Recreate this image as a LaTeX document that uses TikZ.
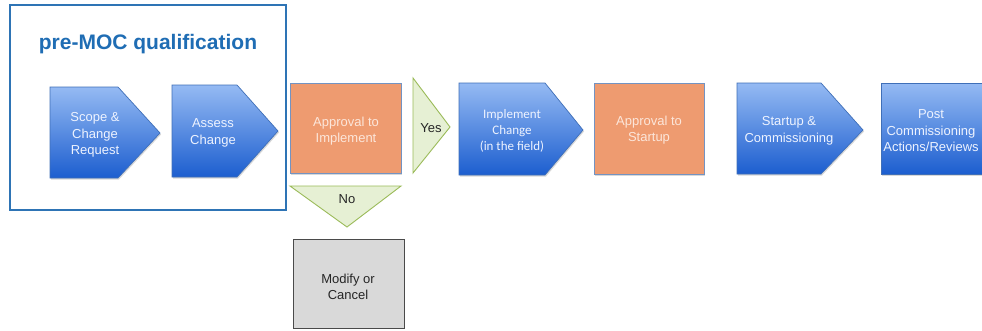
\documentclass[tikz,border=0pt]{standalone}
\usepackage{fontspec}
\setmainfont{Liberation Sans}
\newfontfamily\calfont{Carlito}
\usetikzlibrary{shadows}
\definecolor{frameblue}{HTML}{2E74B5}
\definecolor{titleblue}{HTML}{1F6DB4}
\definecolor{bluetop}{HTML}{95BAF3}
\definecolor{bluebot}{HTML}{1C5ECF}
\definecolor{blueedge}{HTML}{3F6FB8}
\definecolor{salmon}{HTML}{EE9B70}
\definecolor{salmonedge}{HTML}{7393C2}
\definecolor{salmontext}{HTML}{FCE6DA}
\definecolor{bluetext}{HTML}{EEF3FF}
\definecolor{greenfill}{HTML}{E6F0D4}
\definecolor{greenedge}{HTML}{9BBB59}
\definecolor{grayfill}{HTML}{D9D9D9}
\definecolor{grayedge}{HTML}{4A4A4A}
\tikzset{
  shd/.style={drop shadow={shadow xshift=1pt,shadow yshift=-1.5pt,opacity=0.25,fill=black!60}},
  chev/.style={top color=bluetop,bottom color=bluebot,draw=blueedge,line width=0.7pt,shd},
  orangebox/.style={fill=salmon,draw=salmonedge,line width=0.8pt,shd},
  tri/.style={fill=greenfill,draw=greenedge,line width=0.9pt},
  graybox/.style={fill=grayfill,draw=grayedge,line width=0.8pt},
  lbl/.style={align=center,font=\fontsize{13}{16.5}\selectfont,inner sep=0pt},
  bluelbl/.style={lbl,text=bluetext},
  orangelbl/.style={lbl,text=salmontext},
}
\begin{document}
\begin{tikzpicture}[x=1pt,y=-1pt]
\useasboundingbox (0,0) rectangle (982,330);
\fill[white] (0,0) rectangle (982,330);
% frame
\draw[frameblue,line width=2pt] (10,5) rectangle (286,210);
\node[text=titleblue,font=\bfseries\fontsize{21}{25}\selectfont] (title) at (148,44) {pre-MOC qualification};
% chevrons in frame
\path[chev] (50,87) -- (118,87) -- (160,133) -- (118,178) -- (50,178) -- cycle;
\node[bluelbl] (scope) at (95,135) {Scope \&\\Change\\Request};
\path[chev] (172,85) -- (237,85) -- (278,131) -- (237,177) -- (172,177) -- cycle;
\node[bluelbl] (assess) at (213,133) {Assess\\Change};
% approval to implement
\path[orangebox] (290,83) rectangle (401,173);
\node[orangelbl] (appimp) at (346,131) {Approval to\\Implement};
% yes triangle
\path[tri] (413,78) -- (450,127) -- (413,173) -- cycle;
\node[lbl,text=black!85] (yes) at (431,128) {Yes};
% no triangle
\path[tri] (290,186) -- (401,186) -- (347,227) -- cycle;
\node[lbl,text=black!85] (no) at (347,199) {No};
% modify or cancel
\path[graybox] (293,239) rectangle (404,328);
\node[lbl,text=black!85] (modify) at (348,287) {Modify or\\Cancel};
% implement change
\path[chev] (459,83) -- (545,83) -- (583,130) -- (545,175) -- (459,175) -- cycle;
\node[bluelbl,font=\calfont\fontsize{13}{16}\selectfont] (impl) at (512,131) {Implement\\Change\\(in the field)};
% approval to startup
\path[orangebox] (594,83) rectangle (704,174);
\node[orangelbl] (appstart) at (649,130) {Approval to\\Startup};
% startup & commissioning
\path[chev] (737,83) -- (821,83) -- (863,130) -- (821,174) -- (737,174) -- cycle;
\node[bluelbl] (startup) at (789,131) {Startup \&\\Commissioning};
% post commissioning
\path[chev] (881,83) rectangle (990,174);
\node[bluelbl] (post) at (931,131) {Post\\Commissioning\\Actions/Reviews};
\end{tikzpicture}
\end{document}
